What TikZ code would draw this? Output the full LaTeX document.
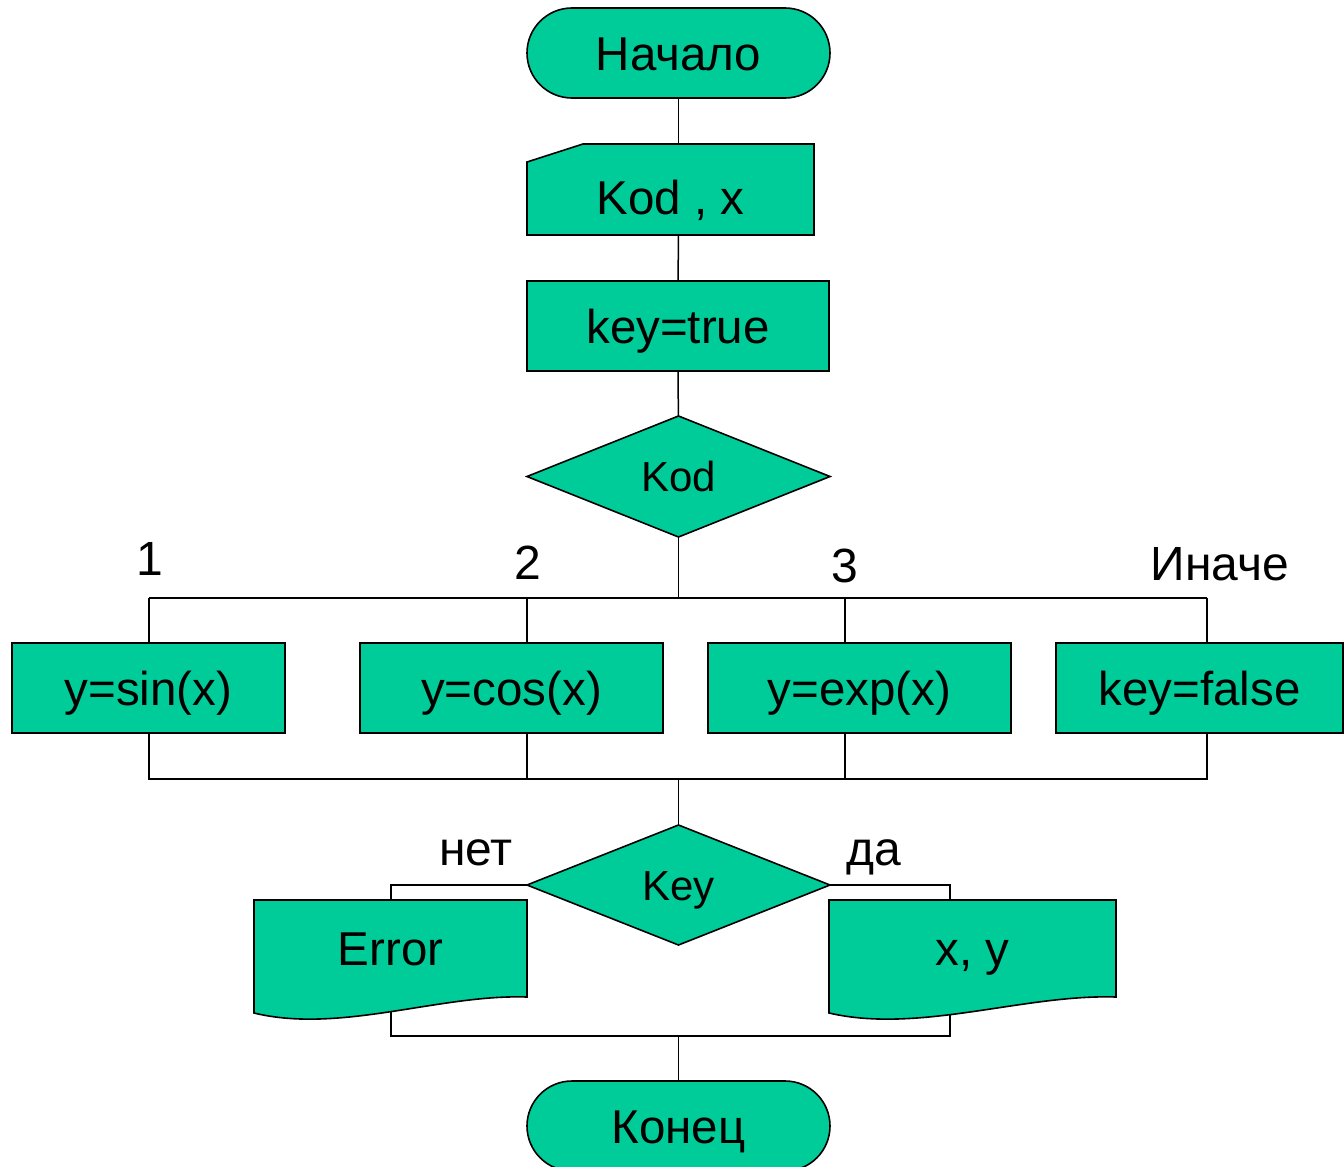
\documentclass[tikz,border=0pt]{standalone}
\usepackage{fontspec}
\setmainfont{Liberation Sans}
\usetikzlibrary{shapes.geometric,calc}
\pgfdeclarelayer{bg}
\pgfdeclarelayer{shp}
\pgfsetlayers{bg,shp,main}
\definecolor{fillg}{RGB}{0,204,153}
\begin{document}
\begin{tikzpicture}[x=1pt,y=-1pt,
  every node/.style={inner sep=0pt, outer sep=0pt},
  shp/.style={fill=fillg, draw=black, line width=1.6pt},
  bigtxt/.style={font=\fontsize{47.5}{56}\selectfont, text height=34pt, text depth=0pt},
  smalltxt/.style={font=\fontsize{42}{50}\selectfont, text height=30pt, text depth=0pt},
  box/.style={shp, rectangle, bigtxt},
  term/.style={box, rounded corners=45pt, minimum width=303pt, minimum height=90pt},
  dec/.style={shp, diamond, smalltxt, minimum width=303pt},
  txtbox/.style={rectangle, bigtxt},
  lbl/.style={font=\fontsize{48}{56}\selectfont, text height=34pt, text depth=0pt},
  conn/.style={draw=black, line width=1.5pt}
]
\useasboundingbox (0,0) rectangle (1344,1167);

% nodes
\node[term] (start) at (678.5,53) {Начало};
\node[txtbox, minimum width=287pt, minimum height=91pt, text height=50pt] (inp) at (670.5,189.5) {Kod , x};
\node[box, minimum width=302pt, minimum height=90pt] (init) at (678,326) {key=true};
\node[dec, minimum height=121pt] (kod) at (678.5,476.5) {Kod};

\node[lbl] (l1) at (150,558) {1};
\node[lbl] (l2) at (528,562) {2};
\node[lbl] (l3) at (845,565) {3};
\node[lbl] (l4) at (1220,563) {Иначе};

\node[box, minimum width=273pt, minimum height=90pt] (sin) at (148.5,688) {y=sin(x)};
\node[box, minimum width=303pt, minimum height=90pt] (cos) at (511.5,688) {y=cos(x)};
\node[box, minimum width=303pt, minimum height=90pt] (exp) at (859.5,688) {y=exp(x)};
\node[box, minimum width=287pt, minimum height=90pt] (fals) at (1199.5,688) {key=false};

\node[dec, minimum height=120pt] (key) at (678.5,885) {Key};
\node[lbl] (no) at (476,848) {нет};
\node[lbl] (yes) at (874,848) {да};

\node[txtbox, minimum width=273pt, minimum height=97pt] (err) at (390.5,948.5) {Error};
\node[txtbox, minimum width=287pt, minimum height=97pt] (xy) at (972.5,948.5) {x, y};

\node[term] (end) at (678.5,1126) {Конец};

% special shapes
\begin{pgfonlayer}{shp}
\path[shp] ($(inp.north west)+(0,18)$) -- ($(inp.north west)+(56,0)$) -- (inp.north east) -- (inp.south east) -- (inp.south west) -- cycle;
\path[shp] (err.north west) -- (err.north east) -- (err.south east)
  .. controls ($(err.south east)+(-87,-3)$) and ($(err.south west)+(86,37)$) .. ($(err.south west)+(0,16)$) -- cycle;
\path[shp] (xy.north west) -- (xy.north east) -- (xy.south east)
  .. controls ($(xy.south east)+(-92,-3)$) and ($(xy.south west)+(90,37)$) .. ($(xy.south west)+(0,16)$) -- cycle;
\end{pgfonlayer}

% coordinates
\coordinate (b1) at (149,598);
\coordinate (b2) at (527,598);
\coordinate (b3) at (845,598);
\coordinate (b4) at (1207,598);
\coordinate (c1) at (149,779);
\coordinate (c2) at (527,779);
\coordinate (c3) at (845,779);
\coordinate (c4) at (1207,779);
\coordinate (dL) at (391,885);
\coordinate (dR) at (950,885);
\coordinate (e1) at (391,1036);
\coordinate (e2) at (950,1036);

% connectors
\begin{pgfonlayer}{bg}
\draw[conn] (start) -- (start |- inp);
\draw[conn] (start |- inp) -- (init);
\draw[conn] (init) -- (kod);
\draw[conn] (kod) -- (kod |- b1);
\draw[conn] (b1) -- (b4);
\draw[conn] (b1) -- (b1 |- sin);
\draw[conn] (b2) -- (b2 |- cos);
\draw[conn] (b3) -- (b3 |- exp);
\draw[conn] (b4) -- (b4 |- fals);
\draw[conn] (b1 |- sin) -- (c1) -- (c4) -- (b4 |- fals);
\draw[conn] (b2 |- cos) -- (c2);
\draw[conn] (b3 |- exp) -- (c3);
\draw[conn] (key |- c1) -- (key);
\draw[conn] (key) -- (dL) -- (dL |- err);
\draw[conn] (key) -- (dR) -- (dR |- xy);
\draw[conn] (dL |- err) -- (e1) -- (e2) -- (dR |- xy);
\draw[conn] (end |- e1) -- (end);
\end{pgfonlayer}
\end{tikzpicture}
\end{document}
